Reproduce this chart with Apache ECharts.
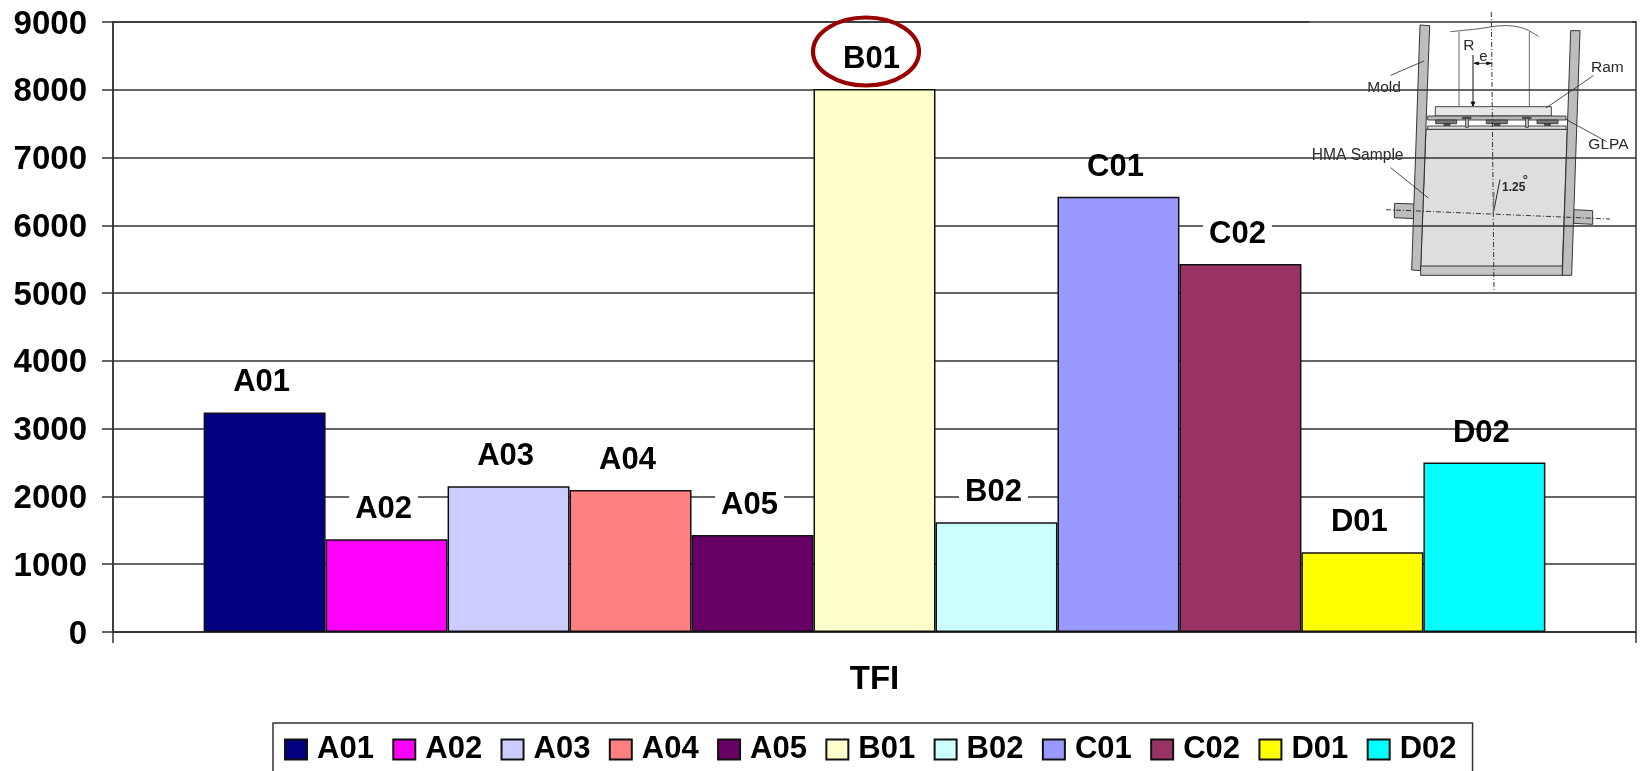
<!DOCTYPE html>
<html>
<head>
<meta charset="utf-8">
<style>html,body{margin:0;padding:0;background:#fff}#c{width:1640px;height:771px}</style>
<script src="https://cdn.jsdelivr.net/npm/echarts@6/dist/echarts.min.js"></script>
</head>
<body>
<div id="c"></div>
<script>
const seriesNames = ['A01','A02','A03','A04','A05','B01','B02','C01','C02','D01','D02'];
const seriesValues = [3240,1370,2150,2095,1430,8010,1620,6420,5430,1175,2500];
const seriesColors = ['#000080','#FF00FF','#CCCCFF','#FF8080','#660066','#FFFFCC','#CCFFFF','#9999FF','#993366','#FFFF00','#00FFFF'];
const categories = ['TFI'];
const labelsWithoutMask = ['C01','D02'];

const FONT = '"Liberation Sans", Arial, sans-serif';
const X = x => 1290 + x / 3, Y = y => y / 3;
const pts = a => a.map(q => [X(q[0]), Y(q[1])]);
const poly = (a, fill, stroke, lw) => ({type:'polygon', shape:{points:pts(a)}, style:{fill:fill, stroke:stroke||'#222', lineWidth:lw||0.9}});
const box = (x1,y1,x2,y2,fill,stroke,lw) => poly([[x1,y1],[x2,y1],[x2,y2],[x1,y2]],fill,stroke,lw);
const line = (a, stroke, lw, dash, smooth) => ({type:'polyline', shape:{points:pts(a), smooth:smooth||0}, style:{fill:null, stroke:stroke||'#222', lineWidth:lw||0.8, lineDash:dash||null}});
const txt = (t,x,y,size,weight) => ({type:'text', style:{text:t, x:X(x), y:Y(y), fill:'#2a2a2a', font:(weight||'normal')+' '+size+'px '+FONT, align:'left', verticalAlign:'middle'}});

const inset = [
  {type:'rect', shape:{x:1309.5,y:0,width:322.5,height:296}, style:{fill:'#fff'}},
  poly([[314,610],[374,612],[373,656],[313,653]],'#bdbdbd'),
  poly([[851,629],[908,632],[908,673],[851,670]],'#bdbdbd'),
  poly([[408,388],[832,388],[817,800],[392,800]],'#dedede'),
  poly([[390,75],[419,77],[392,812],[365,810]],'#bdbdbd'),
  poly([[842,92],[870,92],[845,826],[817,826]],'#bdbdbd'),
  box(392,798,817,826,'#c4c4c4'),
  line([[507,95],[507,320]],'#555',0.9),
  line([[718,95],[718,320]],'#555',0.9),
  line([[480,95],[560,87],[640,77],[700,85],[746,110]],'#333',0.8,null,0.4),
  box(436,320,784,348,'#e6e6e6','#333'),
  box(413,348,828,360,'#b8b8b8','#333'),
  box(413,378,828,388,'#dcdcdc','#333'),
  box(437,360,500,371,'#777','#333'),
  box(589,360,652,371,'#777','#333'),
  box(741,360,804,371,'#777','#333'),
  box(462,371,480,376,'#555','#333'),
  box(612,371,630,376,'#555','#333'),
  box(763,371,781,376,'#555','#333'),
  box(527,352,535,382,'#ccc','#333'),
  box(707,352,715,382,'#ccc','#333'),
  box(517,352,543,356,'#999','#333'),
  box(697,352,723,356,'#999','#333'),
  line([[604,36],[612,875]],'#222',0.9,[5,2,1,2]),
  line([[288,629],[960,657]],'#222',0.9,[5,2,1,2]),
  line([[549,165],[549,318]],'#111',1),
  poly([[543,306],[555,306],[549,318]],'#111','#111'),
  line([[552,190],[604,190]],'#111',0.8),
  poly([[552,190],[566,186],[566,194]],'#111','#111'),
  poly([[604,190],[590,186],[590,194]],'#111','#111'),
  line([[610,640],[630,538]],'#111',0.9),
  line([[610,640],[612,575]],'#777',1.2),
  line([[302,226],[402,183]],'#222',0.8),
  line([[768,324],[910,227]],'#222',0.8),
  line([[828,358],[950,425]],'#222',0.8),
  line([[302,503],[415,594]],'#222',0.8),
  txt('R',520,137,15.5),
  txt('e',568,172,15),
  txt('Mold',232,262,15.5),
  txt('Ram',903,204,15.5),
  txt('GLPA',895,435,15.5),
  txt('HMA Sample',65,467,15.6),
  txt('1.25',636,562,12,'bold'),
  txt('°',698,542,13,'bold')
];

const ring = {type:'ellipse', shape:{cx:866,cy:51.5,rx:53,ry:34}, style:{fill:null, stroke:'#990000', lineWidth:4.2}, z:30};

const chart = echarts.init(document.getElementById('c'), null, {renderer:'canvas'});
chart.setOption({
  animation:false,
  backgroundColor:'#fff',
  textStyle:{fontFamily:FONT},
  grid:{left:113,right:4,top:22,bottom:139,show:true,borderColor:'#333',borderWidth:1.5,backgroundColor:'transparent',containLabel:false},
  xAxis:{
    type:'category', data:categories,
    axisLine:{show:true,lineStyle:{color:'#333',width:1.5}},
    axisTick:{show:true,length:11,lineStyle:{color:'#333',width:1.5}},
    axisLabel:{fontSize:33,fontWeight:'bold',color:'#000',fontFamily:FONT,margin:31}
  },
  yAxis:{
    type:'value',min:0,max:9000,interval:1000,
    axisLine:{show:true,lineStyle:{color:'#333',width:1.5}},
    axisTick:{show:true,length:11,lineStyle:{color:'#333',width:1.5}},
    axisLabel:{margin:26,formatter:v=>'{t|'+v+'}',
      rich:{t:{fontSize:33,fontWeight:'bold',color:'#000',fontFamily:FONT,padding:[5,0,0,0]}}},
    splitLine:{show:true,lineStyle:{color:'#333',width:1.5}}
  },
  legend:{
    left:273,top:723,orient:'horizontal',
    data:seriesNames,
    icon:'rect',itemWidth:22,itemHeight:20,itemGap:18.4,
    padding:[11,16,14,11],
    borderColor:'#333',borderWidth:1.5,backgroundColor:'#fff',
    textStyle:{fontSize:31,fontWeight:'bold',color:'#000',fontFamily:FONT,padding:[4,0,0,5]}
  },
  series:seriesNames.map((n,i)=>({
    name:n,type:'bar',barGap:0,barCategoryGap:'11.9%',
    data:[seriesValues[i]],
    itemStyle:{color:seriesColors[i],borderColor:'#111',borderWidth:1.5},
    label:{
      show:true,position:'top',distance:15,offset:[-3,1],formatter:'{a}',
      fontSize:31,fontWeight:'bold',color:'#000',fontFamily:FONT,
      backgroundColor:labelsWithoutMask.includes(n)?'transparent':'#fff',
      padding:[0,6,0,6]
    }
  })),
  graphic:{elements:[{type:'group',z:20,silent:true,children:inset},ring]}
});
</script>
</body>
</html>
